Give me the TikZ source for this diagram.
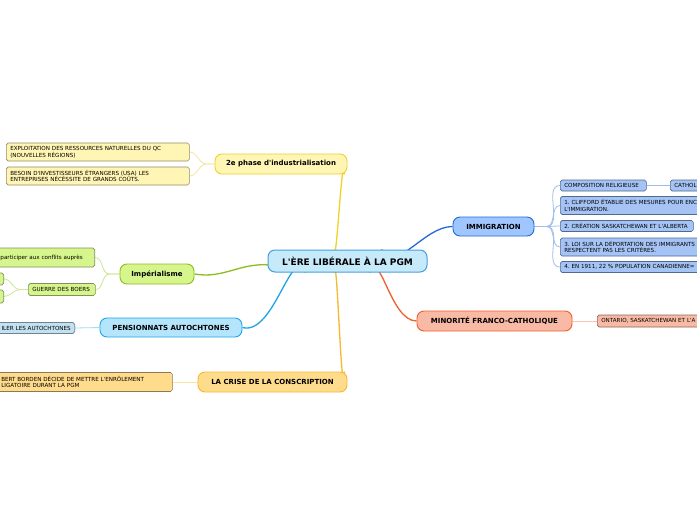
\documentclass[tikz,border=0pt]{standalone}
\usepackage{fontspec}
\setmainfont{DejaVu Sans}
\usetikzlibrary{calc}
\pgfdeclarelayer{bg}
\pgfdeclarelayer{links}
\pgfsetlayers{bg,links,main}
\newcommand{\aq}{\textquotesingle}
\definecolor{cenF}{RGB}{199,234,251}
\definecolor{cenD}{RGB}{70,160,220}
\definecolor{yelF}{RGB}{255,245,180}
\definecolor{yelD}{RGB}{240,210,40}
\definecolor{yelL}{RGB}{245,230,160}
\definecolor{yelB}{RGB}{150,140,100}
\definecolor{grnF}{RGB}{214,245,140}
\definecolor{grnD}{RGB}{140,190,30}
\definecolor{grnL}{RGB}{205,230,150}
\definecolor{grnB}{RGB}{130,145,90}
\definecolor{cyaF}{RGB}{180,229,252}
\definecolor{cyaD}{RGB}{30,165,230}
\definecolor{cyaL}{RGB}{165,218,245}
\definecolor{cyaLF}{RGB}{195,225,240}
\definecolor{cyaB}{RGB}{110,130,145}
\definecolor{orgF}{RGB}{255,219,140}
\definecolor{orgD}{RGB}{245,185,45}
\definecolor{orgL}{RGB}{252,228,165}
\definecolor{orgB}{RGB}{140,120,85}
\definecolor{bluF}{RGB}{160,198,255}
\definecolor{bluD}{RGB}{35,105,215}
\definecolor{bluLF}{RGB}{165,196,245}
\definecolor{bluL}{RGB}{160,190,235}
\definecolor{bluB}{RGB}{80,105,145}
\definecolor{redF}{RGB}{249,186,165}
\definecolor{redD}{RGB}{240,95,45}
\definecolor{redL}{RGB}{250,195,180}
\definecolor{redB}{RGB}{140,100,90}
\tikzset{
 central/.style={draw=cenD, fill=cenF, line width=1pt, rounded corners=7pt,
   font=\fontsize{9}{10}\selectfont\bfseries, minimum width=159pt, minimum height=22pt, inner sep=0pt},
 branch/.style={line width=0.9pt, rounded corners=7pt,
   font=\fontsize{7}{8}\selectfont\bfseries, minimum height=20pt, inner sep=0pt},
 leaf/.style={line width=0.6pt, rounded corners=1.8pt,
   font=\fontsize{5.6}{6.8}\selectfont\frenchspacing, inner xsep=4pt, inner ysep=0pt, align=left, anchor=west, minimum height=11pt},
 leaftwo/.style={leaf, minimum height=18pt},
 mainlink/.style={line width=1.3pt},
 leaflink/.style={line width=0.8pt},
}
\begin{document}
\begin{tikzpicture}[x=1pt,y=-1pt]
\useasboundingbox (0,0) rectangle (697,520);
\begin{pgfonlayer}{bg}
\fill[white] (0,0) rectangle (697,520);
\end{pgfonlayer}
\clip (0,0) rectangle (697,520);

% central
\node[central] (cen) at (347.5,261) {L\aq ÈRE LIBÉRALE À LA PGM};

% branches
\node[branch, draw=yelD, fill=yelF, minimum width=132pt] (ind) at (281,164) {2e phase d\aq industrialisation};
\node[branch, draw=grnD, fill=grnF, minimum width=74pt] (imp) at (157,274) {Impérialisme};
\node[branch, draw=cyaD, fill=cyaF, minimum width=142pt, minimum height=19pt] (pen) at (171,327.5) {PENSIONNATS AUTOCHTONES};
\node[branch, draw=orgD, fill=orgF, minimum width=149pt] (cri) at (272.5,382) {LA CRISE DE LA CONSCRIPTION};
\node[branch, draw=bluD, fill=bluF, minimum width=81pt, minimum height=19pt] (imm) at (493.5,226.5) {IMMIGRATION};
\node[branch, draw=redD, fill=redF, minimum width=155pt] (mfc) at (494.5,321) {MINORITÉ FRANCO-CATHOLIQUE};

% leaves: industrialisation
\node[leaftwo, draw=yelB, fill=yelF, text width=175pt] (ind1) at (6,152) {EXPLOITATION DES RESSOURCES NATURELLES DU QC\\(NOUVELLES RÉGIONS)};
\node[leaftwo, draw=yelB, fill=yelF, text width=175pt] (ind2) at (6,176) {BESOIN D\aq INVESTISSEURS ÉTRANGERS (USA) LES\\ENTREPRISES NÉCÉSSITE DE GRANDS COÛTS.};

% leaves: imperialisme
\node[leaf, anchor=east, align=right, draw=grnB, fill=grnF, text width=110pt, minimum height=19pt] (imp1) at (95,257.5) {participer aux conflits auprès\kern8pt};
\node[leaf, draw=grnB, fill=grnF, text width=59pt, minimum height=12pt] (boer) at (28,289.5) {GUERRE DES BOERS};
\node[leaf, anchor=east, draw=grnB, fill=grnF, minimum width=20pt, minimum height=12pt] (boer1) at (4,279) {};
\node[leaf, anchor=east, draw=grnB, fill=grnF, minimum width=20pt, minimum height=13pt] (boer2) at (4,296.5) {};

% leaves: pensionnats
\node[leaf, anchor=east, align=right, draw=cyaB, fill=cyaLF, text width=90pt] (pen1) at (75,328) {ILER LES AUTOCHTONES};

% leaves: crise
\node[leaftwo, draw=orgB, fill=orgF, text width=167pt, minimum height=19pt] (cri1) at (-3,382) {BERT BORDEN DÉCIDE DE METTRE L\aq ENRÔLEMENT\\LIGATOIRE DURANT LA PGM};

% leaves: immigration
\node[leaf, draw=bluB, fill=bluLF, text width=78pt] (comp) at (560,185.5) {COMPOSITION RELIGIEUSE};
\node[leaf, draw=bluB, fill=bluLF, text width=60pt] (cath) at (670,185.5) {CATHOL};
\node[leaftwo, draw=bluB, fill=bluLF, text width=170pt] (imm1) at (560,205.5) {1. CLIFFORD ÉTABLIE DES MESURES POUR ENC\\L\aq IMMIGRATION.};
\node[leaf, draw=bluB, fill=bluLF, text width=125pt] (imm2) at (560,226) {2. CRÉATION SASKATCHEWAN ET L\aq ALBERTA};
\node[leaftwo, draw=bluB, fill=bluLF, text width=170pt] (imm3) at (560,247) {3. LOI SUR LA DÉPORTATION DES IMMIGRANTS\\RESPECTENT PAS LES CRITÈRES.};
\node[leaf, draw=bluB, fill=bluLF, text width=170pt] (imm4) at (560,267) {4. EN 1911, 22 \% POPULATION CANADIENNE=};

% leaves: minorite
\node[leaf, draw=redB, fill=redF, text width=150pt, minimum height=12pt] (mfc1) at (597,321) {ONTARIO, SASKATCHEWAN ET L\aq A};

\begin{pgfonlayer}{links}
% main links (angles negated because y axis points down)
\draw[mainlink, yelD] ($(cen.north)+(-14,0)$) to[out=-85,in=95] ($(ind.south east)+(-3,0)$);
\draw[mainlink, grnD] ($(cen.west)+(2,4)$) to[out=175,in=-10] (imp.east);
\draw[mainlink, cyaD] ($(cen.south)+(-42,0)$) to[out=115,in=-15] (pen.east);
\draw[mainlink, orgD] ($(cen.south)+(-14,0)$) to[out=85,in=-95] ($(cri.north east)+(-3,0)$);
\draw[mainlink, bluD] ($(cen.north)+(34,0)$) to[out=-55,in=180] (imm.west);
\draw[mainlink, redD] ($(cen.south)+(22,0)$) to[out=65,in=180] (mfc.west);

% leaf links
\draw[leaflink, yelL] (ind.west) -- ++(-8,0) to[out=180,in=0] (ind1.east);
\draw[leaflink, yelL] (ind.west) -- ++(-8,0) to[out=180,in=0] (ind2.east);
\draw[leaflink, grnL] (imp.west) -- ++(-10,0) to[out=180,in=0] (imp1.east);
\draw[leaflink, grnL] (imp.west) -- ++(-10,0) to[out=180,in=0] (boer.east);
\draw[leaflink, grnL] (boer.west) -- ++(-8,0) to[out=180,in=0] (boer1.east);
\draw[leaflink, grnL] (boer.west) -- ++(-8,0) to[out=180,in=0] (boer2.east);
\draw[leaflink, cyaL] (pen.west) -- (pen1.east);
\draw[leaflink, orgL] (cri.west) -- (cri1.east);
\draw[leaflink, bluL] (imm.east) -- ++(12,0) to[out=0,in=180] (comp.west);
\draw[leaflink, bluL] (imm.east) -- ++(12,0) to[out=0,in=180] (imm1.west);
\draw[leaflink, bluL] (imm.east) -- ++(12,0) to[out=0,in=180] (imm2.west);
\draw[leaflink, bluL] (imm.east) -- ++(12,0) to[out=0,in=180] (imm3.west);
\draw[leaflink, bluL] (imm.east) -- ++(12,0) to[out=0,in=180] (imm4.west);
\draw[leaflink, bluL] (comp.east) -- (cath.west);
\draw[leaflink, redL] (mfc.east) -- (mfc1.west);
\end{pgfonlayer}
\end{tikzpicture}
\end{document}
